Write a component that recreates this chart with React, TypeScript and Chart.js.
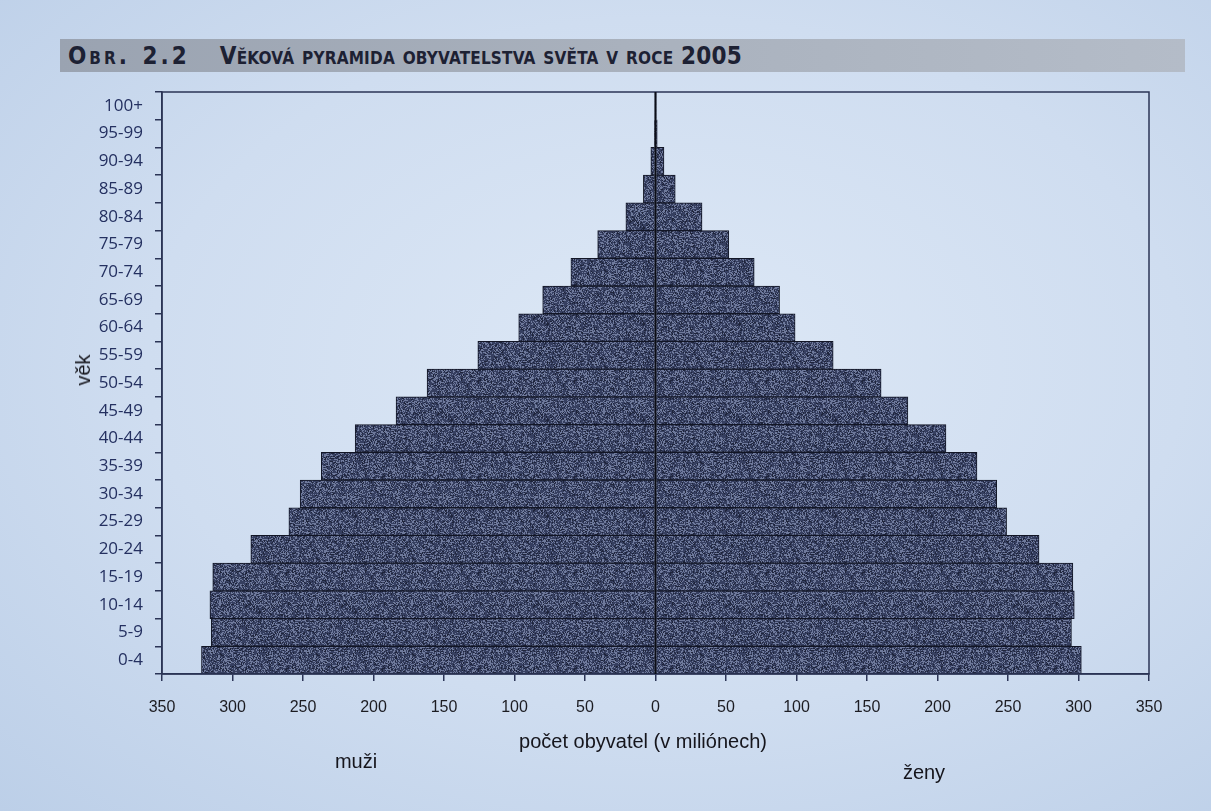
import React, { useEffect, useRef } from 'react';
import { Chart, registerables } from 'chart.js';

Chart.register(...registerables);

// ---- data (values in millions) ----
const AGE_GROUPS = [
  '0-4', '5-9', '10-14', '15-19', '20-24', '25-29', '30-34', '35-39', '40-44', '45-49',
  '50-54', '55-59', '60-64', '65-69', '70-74', '75-79', '80-84', '85-89', '90-94', '95-99', '100+',
];
const MALES = [322, 315, 316, 314, 287, 260, 252, 237, 213, 184, 162, 126, 97, 80, 60, 41, 21, 8.6, 3.3, 0.7, 0.1];
const FEMALES = [302, 295, 297, 296, 272, 249, 242, 228, 206, 179, 160, 126, 99, 88, 70, 52, 33, 14, 6, 1.2, 0.2];
const X_MIN = -350;
const X_MAX = 350;
const X_STEP = 50;

const TITLE_NUMBER = 'Obr. 2.2';
const TITLE_TEXT = 'Věková pyramida obyvatelstva světa v roce 2005';
const X_TITLE = 'počet obyvatel (v miliónech)';
const Y_TITLE = 'věk';
const MALE_LABEL = 'muži';
const FEMALE_LABEL = 'ženy';

const W = 1211;
const H = 811;
const BAR_BASE = '#363f60';

function makeTexture(): CanvasPattern | string {
  const c = document.createElement('canvas');
  c.width = 96;
  c.height = 96;
  const g = c.getContext('2d');
  if (!g) return BAR_BASE;
  g.fillStyle = BAR_BASE;
  g.fillRect(0, 0, 96, 96);
  for (let y = 0; y < 96; y++) {
    for (let x = 0; x < 96; x++) {
      let h = Math.imul(x + 1, 374761393) + Math.imul(y + 7, 668265263);
      h = Math.imul(h ^ (h >>> 13), 1274126177);
      h = (h ^ (h >>> 16)) >>> 0;
      const r = (h % 1000) / 1000;
      if (r < 0.34) {
        g.fillStyle = 'rgba(158,172,206,0.55)';
        g.fillRect(x, y, 1, 1);
      } else if (r > 0.86) {
        g.fillStyle = 'rgba(15,18,35,0.6)';
        g.fillRect(x, y, 1, 1);
      }
    }
  }
  return g.createPattern(c, 'repeat') ?? BAR_BASE;
}

const framePlugin = {
  id: 'frame',
  afterDatasetsDraw(chart: any) {
    const { ctx, chartArea: a, scales } = chart;
    ctx.save();
    ctx.strokeStyle = '#2b3456';
    ctx.lineWidth = 1.5;
    ctx.strokeRect(a.left, a.top, a.right - a.left, a.bottom - a.top);
    const x0 = scales.x.getPixelForValue(0);
    ctx.strokeStyle = '#0b0d16';
    ctx.lineWidth = 2;
    ctx.beginPath();
    ctx.moveTo(x0, a.top);
    ctx.lineTo(x0, a.bottom);
    ctx.stroke();
    ctx.restore();
  },
};

export default function App() {
  const canvasRef = useRef<HTMLCanvasElement | null>(null);

  useEffect(() => {
    document.body.style.margin = '0';
    document.body.style.background = 'radial-gradient(ellipse at 55% 45%, #dde8f6 0%, #cfddf0 55%, #bccfe8 100%)';
    document.body.style.width = W + 'px';
    document.body.style.height = H + 'px';
    document.body.style.overflow = 'hidden';
    const canvas = canvasRef.current;
    if (!canvas) return;
    const tex = makeTexture();
    const chart = new Chart(canvas, {
      type: 'bar',
      data: {
        labels: AGE_GROUPS,
        datasets: [
          {
            label: MALE_LABEL,
            data: MALES.map((v) => -v),
            backgroundColor: tex as any,
            borderColor: '#121626',
            borderWidth: 1,
            barPercentage: 1,
            categoryPercentage: 1,
          },
          {
            label: FEMALE_LABEL,
            data: FEMALES,
            backgroundColor: tex as any,
            borderColor: '#121626',
            borderWidth: 1,
            barPercentage: 1,
            categoryPercentage: 1,
          },
        ],
      },
      options: {
        indexAxis: 'y',
        responsive: false,
        animation: false,
        layout: { padding: { top: 92, right: 62, bottom: 56, left: 0 } },
        plugins: {
          legend: { display: false },
          tooltip: { enabled: false },
        },
        scales: {
          x: {
            type: 'linear',
            stacked: true,
            min: X_MIN,
            max: X_MAX,
            ticks: {
              stepSize: X_STEP,
              autoSkip: false,
              maxRotation: 0,
              padding: 17,
              color: '#1c1c22',
              font: { family: '"Liberation Sans", Arial, sans-serif', size: 16 },
              callback: (v: any) => String(Math.abs(Number(v))),
            },
            grid: { drawOnChartArea: false, drawTicks: true, tickLength: 7, color: '#2b3456', lineWidth: 1.5 },
            border: { display: true, color: '#2b3456', width: 1.5 },
            afterFit: (s: any) => {
              s.height = 81;
            },
          },
          y: {
            type: 'category',
            stacked: true,
            reverse: true,
            ticks: {
              autoSkip: false,
              padding: 12,
              color: '#243060',
              font: { family: '"Open Sans", sans-serif', size: 17 },
            },
            grid: { drawOnChartArea: false, drawTicks: true, tickLength: 7, color: '#2b3456', lineWidth: 1.5, offset: true },
            border: { display: true, color: '#2b3456', width: 1.5 },
            afterFit: (s: any) => {
              s.width = 162;
            },
          },
        },
      },
      plugins: [framePlugin],
    });
    return () => chart.destroy();
  }, []);

  const overlayText: React.CSSProperties = {
    position: 'absolute',
    fontFamily: '"Liberation Sans", Arial, sans-serif',
    fontSize: 20,
    color: '#15151c',
    whiteSpace: 'nowrap',
    lineHeight: 1,
  };

  return (
    <div style={{ position: 'absolute', left: 0, top: 0, width: W, height: H, overflow: 'hidden' }}>
      <div
        style={{
          position: 'absolute',
          left: 60,
          top: 39,
          width: 1125,
          height: 33,
          background: 'linear-gradient(90deg, #9aa3b1 0%, #a9b1bd 50%, #b4bcc8 100%)',
        }}
      />
      <div
        style={{
          position: 'absolute',
          left: 68,
          top: 42,
          fontFamily: '"DejaVu Sans Condensed", "DejaVu Sans", sans-serif',
          fontStretch: 'condensed',
          fontWeight: 700,
          fontVariant: 'small-caps',
          fontSize: 24,
          color: '#1d2133',
          whiteSpace: 'nowrap',
          letterSpacing: 0.2,
        }}
      >
        <span style={{ letterSpacing: 3, wordSpacing: 2 }}>{TITLE_NUMBER}</span>
        <span style={{ marginLeft: 30 }}>{TITLE_TEXT}</span>
      </div>
      <canvas ref={canvasRef} width={W} height={H} style={{ position: 'absolute', left: 0, top: 0 }} />
      <div
        style={{
          ...overlayText,
          left: 83,
          top: 370,
          transform: 'translate(-50%, -50%) rotate(-90deg)',
        }}
      >
        {Y_TITLE}
      </div>
      <div style={{ ...overlayText, left: 643, top: 741, transform: 'translate(-50%, -50%)' }}>{X_TITLE}</div>
      <div style={{ ...overlayText, left: 356, top: 761, transform: 'translate(-50%, -50%)' }}>{MALE_LABEL}</div>
      <div style={{ ...overlayText, left: 924, top: 772, transform: 'translate(-50%, -50%)' }}>{FEMALE_LABEL}</div>
    </div>
  );
}
